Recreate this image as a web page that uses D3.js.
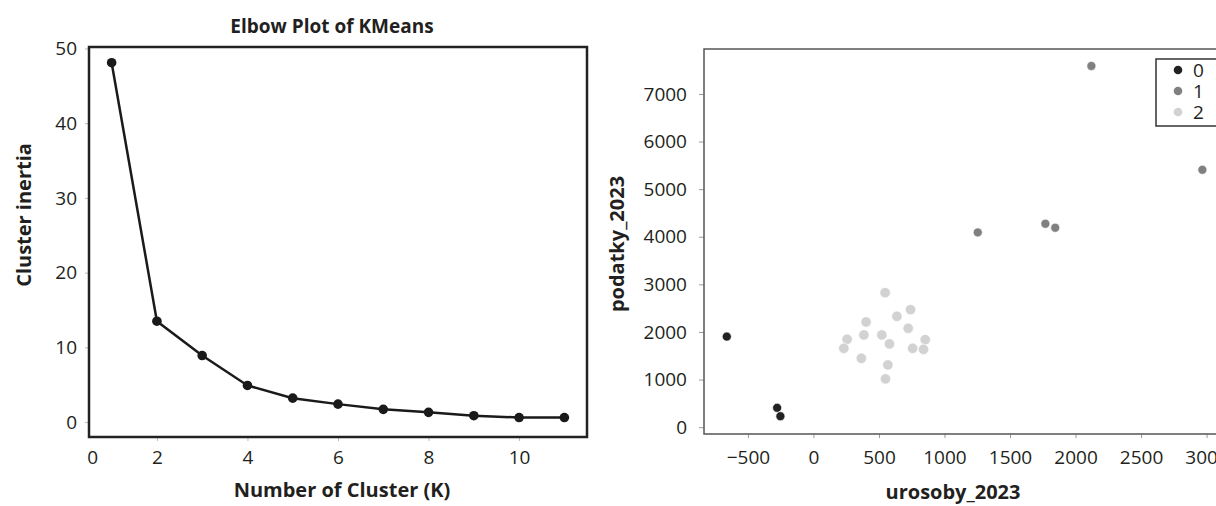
<!DOCTYPE html>
<html>
<head>
<meta charset="utf-8">
<script src="https://cdn.jsdelivr.net/npm/d3@7"></script>
<style>
  body { margin: 0; background: #fff; }
  svg { display: block; font-family: "Open Sans", "Noto Sans", sans-serif; }
</style>
</head>
<body>
<div id="chart"></div>
<script>
// elbow data
const kValues = [1, 2, 3, 4, 5, 6, 7, 8, 9, 10, 11];
const inertia = [48.1, 13.5, 8.9, 4.9, 3.2, 2.4, 1.7, 1.3, 0.85, 0.6, 0.6];
const elbowXTicks = [0.57, 2, 4, 6, 8, 10];
const elbowYTicks = [0, 10, 20, 30, 40, 50];

// scatter data (urosoby_2023, podatky_2023, cluster)
const urosoby = [-661, -277, -252,
  2121, 2968, 1254, 1770, 1845,
  547, 637, 402, 385, 522, 257, 232, 580, 366, 568, 550, 741, 723, 853, 757, 840];
const podatky = [1903, 407, 231,
  7588, 5406, 4091, 4273, 4189,
  2826, 2329, 2211, 1938, 1938, 1846, 1657, 1750, 1447, 1309, 1015, 2469, 2077, 1840, 1657, 1636];
const cluster = [0, 0, 0,
  1, 1, 1, 1, 1,
  2, 2, 2, 2, 2, 2, 2, 2, 2, 2, 2, 2, 2, 2, 2, 2];
const clusterNames = ["0", "1", "2"];
const scatterXTicks = [-500, 0, 500, 1000, 1500, 2000, 2500, 3000];
const scatterYTicks = [0, 1000, 2000, 3000, 4000, 5000, 6000, 7000];

const W = 1216, H = 506;
const ink = "#231f20";
const clusterColor = ["#222222", "#808080", "#d2d2d2"];
const tickFont = 19, labelFont = 20;
const fontFam = '"Open Sans", "Noto Sans", sans-serif';

const svg = d3.select("#chart").append("svg")
  .attr("width", W).attr("height", H)
  .attr("viewBox", `0 0 ${W} ${H}`);

function styleAxis(a, tickColor) {
  a.attr("font-family", fontFam);
  a.select(".domain").remove();
  a.selectAll(".tick line").attr("stroke", tickColor);
  a.selectAll("text").attr("font-size", tickFont).attr("fill", ink);
}

// ---------- left: elbow plot ----------
const L = { x0: 89, x1: 587, y0: 47, y1: 437 };
const ex = d3.scaleLinear().domain([0.5, 11.5]).range([L.x0, L.x1]);
const ey = d3.scaleLinear().domain([-2, 50.2]).range([L.y1, L.y0]);

const gl = svg.append("g");

const xAxL = gl.append("g")
  .attr("transform", `translate(0,${L.y1})`)
  .call(d3.axisBottom(ex).tickValues(elbowXTicks).tickSize(4).tickPadding(10)
    .tickFormat(d => d < 1 ? "0" : d));
const yAxL = gl.append("g")
  .attr("transform", `translate(${L.x0},0)`)
  .call(d3.axisLeft(ey).tickValues(elbowYTicks).tickSize(4).tickPadding(8));
styleAxis(xAxL, "#bbb");
styleAxis(yAxL, "#bbb");
xAxL.selectAll(".tick").filter(d => d < 1).select("line").remove();

gl.append("path")
  .datum(kValues.map((k, i) => [k, inertia[i]]))
  .attr("fill", "none")
  .attr("stroke", "#1a1a1a")
  .attr("stroke-width", 2.5)
  .attr("d", d3.line().x(d => ex(d[0])).y(d => ey(d[1])));

gl.selectAll("circle.k")
  .data(kValues.map((k, i) => [k, inertia[i]]))
  .join("circle")
  .attr("cx", d => ex(d[0])).attr("cy", d => ey(d[1]))
  .attr("r", 4.8).attr("fill", "#1a1a1a");

gl.append("rect")
  .attr("x", L.x0).attr("y", L.y0)
  .attr("width", L.x1 - L.x0).attr("height", L.y1 - L.y0)
  .attr("fill", "none").attr("stroke", "#222").attr("stroke-width", 2.5);

gl.append("text")
  .attr("x", 332).attr("y", 33)
  .attr("text-anchor", "middle").attr("font-weight", "bold")
  .attr("font-size", 19).attr("fill", ink)
  .text("Elbow Plot of KMeans");
gl.append("text")
  .attr("x", 342).attr("y", 497)
  .attr("text-anchor", "middle").attr("font-weight", "bold")
  .attr("font-size", labelFont).attr("fill", ink)
  .text("Number of Cluster (K)");
gl.append("text")
  .attr("transform", `translate(31,215) rotate(-90)`)
  .attr("text-anchor", "middle").attr("font-weight", "bold")
  .attr("font-size", labelFont).attr("fill", ink)
  .text("Cluster inertia");

// ---------- right: scatter ----------
const R = { x0: 704, x1: 1240, y0: 49, y1: 434 };
const sx = d3.scaleLinear().domain([-835, 3255]).range([R.x0, R.x1]);
const sy = d3.scaleLinear().domain([-143, 7944]).range([R.y1, R.y0]);

const gr = svg.append("g");

const xAxR = gr.append("g")
  .attr("transform", `translate(0,${R.y1})`)
  .call(d3.axisBottom(sx).tickValues(scatterXTicks).tickFormat(d3.format("d"))
    .tickSize(4).tickPadding(13));
const yAxR = gr.append("g")
  .attr("transform", `translate(${R.x0},0)`)
  .call(d3.axisLeft(sy).tickValues(scatterYTicks).tickFormat(d3.format("d"))
    .tickSize(5).tickPadding(12));
styleAxis(xAxR, "#999");
styleAxis(yAxR, "#999");

// spines: left, bottom, top
gr.append("path")
  .attr("d", `M${R.x1},${R.y0}H${R.x0}V${R.y1}H${R.x1}`)
  .attr("fill", "none").attr("stroke", "#555").attr("stroke-width", 1.5);

const pts = urosoby.map((u, i) => ({ u, p: podatky[i], c: cluster[i] }));
gr.selectAll("circle.pt")
  .data(pts)
  .join("circle")
  .attr("cx", d => sx(d.u)).attr("cy", d => sy(d.p))
  .attr("r", d => d.c === 2 ? 5.2 : 4.5)
  .attr("fill", d => clusterColor[d.c])
  .attr("stroke", "#fff").attr("stroke-width", 0.6);

// legend
const lg = gr.append("g").attr("transform", "translate(1156,59)");
lg.append("rect")
  .attr("width", 90).attr("height", 67)
  .attr("fill", "#fff").attr("stroke", "#333").attr("stroke-width", 1.5);
clusterNames.forEach((name, i) => {
  lg.append("circle")
    .attr("cx", 22).attr("cy", 11 + i * 21)
    .attr("r", 4.3).attr("fill", clusterColor[i]);
  lg.append("text")
    .attr("x", 37).attr("y", 11 + i * 21)
    .attr("dy", "0.35em")
    .attr("font-size", 19).attr("fill", ink)
    .text(name);
});

gr.append("text")
  .attr("x", 953).attr("y", 499)
  .attr("text-anchor", "middle").attr("font-weight", "bold")
  .attr("font-size", labelFont).attr("fill", ink)
  .text("urosoby_2023");
gr.append("text")
  .attr("transform", `translate(624,244) rotate(-90)`)
  .attr("text-anchor", "middle").attr("font-weight", "bold")
  .attr("font-size", labelFont).attr("fill", ink)
  .text("podatky_2023");
</script>
</body>
</html>
